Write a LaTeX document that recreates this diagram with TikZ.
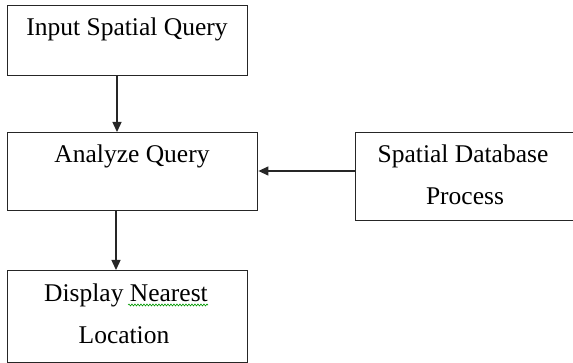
\documentclass[tikz,border=0pt]{standalone}
\usepackage{fontspec}
\setmainfont{Liberation Serif}
\usetikzlibrary{arrows.meta,decorations.pathmorphing}
\begin{document}
\begin{tikzpicture}[x=1pt,y=-1pt,
  boxline/.style={draw=black!85,line width=1.4pt},
  lbl/.style={font=\fontsize{25.5}{30}\selectfont,anchor=base,inner sep=0pt,text=black},
  conn/.style={draw=black!85,line width=1.3pt,-{Triangle[length=10pt,width=9pt]}}]
\useasboundingbox (0,0) rectangle (573,363);
% boxes
\node[boxline,inner sep=0pt,minimum width=240pt,minimum height=70pt,anchor=north west] (b1) at (7,5) {};
\node[boxline,inner sep=0pt,minimum width=250pt,minimum height=78pt,anchor=north west] (b2) at (7,132) {};
\node[boxline,inner sep=0pt,minimum width=230pt,minimum height=88pt,anchor=north west] (b3) at (355,132) {};
\node[boxline,inner sep=0pt,minimum width=240pt,minimum height=92pt,anchor=north west] (b4) at (7,270) {};
% texts
\node[lbl] (t1) at (127,36) {Input Spatial Query};
\node[lbl] (t2) at (132,163) {Analyze Query};
\node[lbl] (t3a) at (463,163) {Spatial Database};
\node[lbl] (t3b) at (465,205) {Process};
\node[lbl] (t4a) at (126,302) {Display Nearest};
\node[lbl] (t4b) at (124,343) {Location};
% spell-check squiggle
\coordinate (sq1) at (128,305);
\coordinate (sq2) at (208,305);
\draw[green!60!black,line width=0.6pt,decorate,decoration={snake,amplitude=1pt,segment length=3pt}] (sq1) -- (sq2);
% connectors
\draw[conn] (b1.south -| 117,0) -- (b2.north -| 117,0);
\draw[conn] (b2.south -| 116,0) -- (b4.north -| 116,0);
\draw[conn] (b3.west |- 0,171) -- (b2.east |- 0,171);
\end{tikzpicture}
\end{document}
